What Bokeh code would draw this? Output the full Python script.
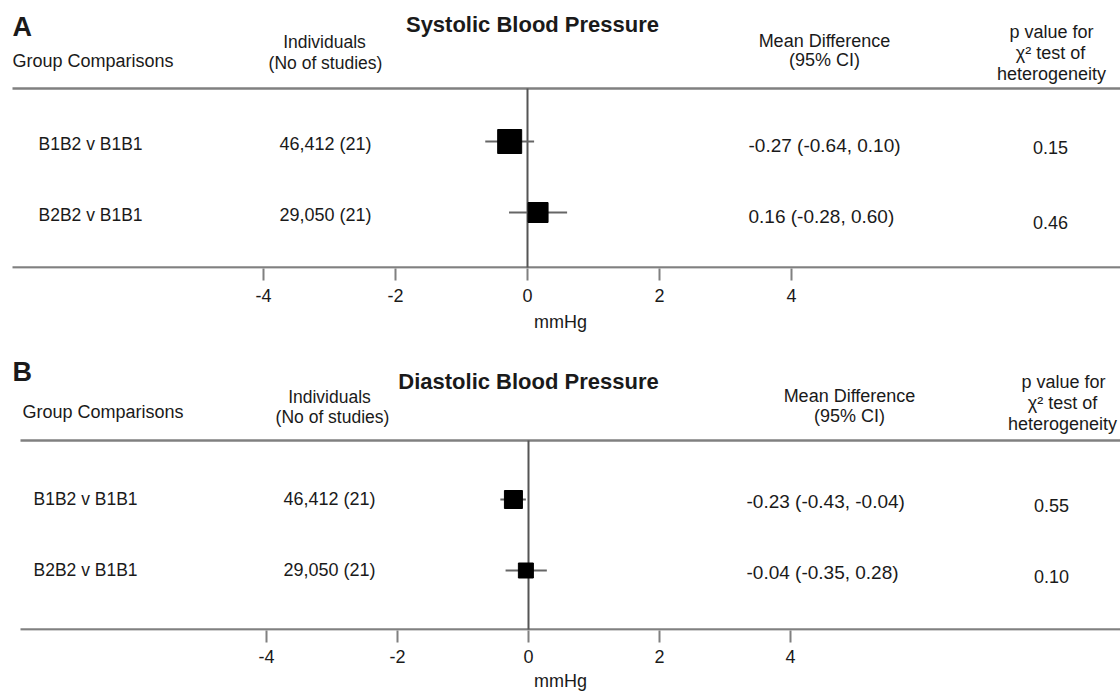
from bokeh.plotting import figure
from bokeh.layouts import column
from bokeh.models import Range1d, FixedTicker
from bokeh.core.properties import value
from bokeh.embed import file_html
from bokeh.resources import INLINE

# ---------------- data ----------------
comparisons = ["B1B2 v B1B1", "B2B2 v B1B1"]
individuals = ["46,412 (21)", "29,050 (21)"]

sbp_mean = [-0.27, 0.16]
sbp_lo = [-0.64, -0.28]
sbp_hi = [0.10, 0.60]
sbp_p = ["0.15", "0.46"]

dbp_mean = [-0.23, -0.04]
dbp_lo = [-0.43, -0.35]
dbp_hi = [-0.04, 0.28]
dbp_p = ["0.55", "0.10"]

x_ticks = [-4, -2, 0, 2, 4]
x_label = "mmHg"

FONT = "Liberation Sans"
TXT = "#1a1a1a"
LINE = "#808080"


def make_panel(letter, title, mean, lo, hi, pvals, g):
    H, fb = g["height"], g["fb"]

    def X(px):
        return (px - g["x0"]) / g["ppu"]

    def Y(py):
        return 2 - (py - g["row1"]) / g["gap"]

    p = figure(width=1120, height=H,
               x_range=Range1d(X(0), X(1120)), y_range=Range1d(Y(fb), Y(0)),
               output_backend="svg", toolbar_location=None, y_axis_location=None,
               min_border_left=0, min_border_right=0, min_border_top=0,
               min_border_bottom=H - fb)
    p.outline_line_color = None
    p.xgrid.visible = False
    p.ygrid.visible = False
    p.background_fill_color = "white"
    p.border_fill_color = "white"

    ax = p.xaxis[0]
    ax.ticker = FixedTicker(ticks=x_ticks)
    ax.major_label_overrides = {t: str(t) for t in x_ticks}
    ax.axis_line_color = None
    ax.major_tick_in = 0
    ax.major_tick_out = 12
    ax.major_tick_line_color = LINE
    ax.major_tick_line_width = 2
    ax.minor_tick_line_color = None
    ax.major_label_text_font = FONT
    ax.major_label_text_font_size = "18px"
    ax.major_label_text_color = TXT
    ax.major_label_standoff = g["lab_standoff"]
    ax.axis_label = x_label
    ax.axis_label_text_font = FONT
    ax.axis_label_text_font_size = "18px"
    ax.axis_label_text_font_style = "normal"
    ax.axis_label_text_color = TXT
    ax.axis_label_standoff = g["axlab_standoff"]

    y_rows = [2, 1]
    y_top = Y(g["topline"])
    y_axis = Y(fb - 1)
    # rules
    p.segment(x0=[X(g["lx"])], x1=[X(1120)], y0=[y_top], y1=[y_top],
              line_color=LINE, line_width=2.5)
    p.segment(x0=[X(g["lx"])], x1=[X(1120)], y0=[y_axis], y1=[y_axis],
              line_color=LINE, line_width=2.5)
    p.segment(x0=[0], x1=[0], y0=[y_axis], y1=[y_top], line_color="#555555", line_width=2)

    # CIs and point estimates
    p.segment(x0=lo, x1=hi, y0=y_rows, y1=y_rows, line_color="#666666", line_width=2)
    p.scatter(x=mean, y=y_rows, marker="square", size=g["sq"], fill_color="black",
              line_color="black")

    def txt(xs, ys, texts, align="left", size="17.5px", style="normal"):
        p.text(x=[X(v) for v in xs], y=[Y(v) for v in ys], text=texts,
               text_font=value(FONT), text_font_size=size, text_font_style=style,
               text_color=TXT, text_align=align, text_baseline="middle")

    hd = g["hdr"]
    txt([hd["letter"][0]], [hd["letter"][1]], [letter], size="27px", style="bold")
    txt([hd["title"][0]], [hd["title"][1]], [title], align="center", size="22px", style="bold")
    txt([hd["group"][0]], [hd["group"][1]], ["Group Comparisons"], size="18px")
    txt([hd["ind1"][0], hd["ind2"][0]], [hd["ind1"][1], hd["ind2"][1]],
        ["Individuals", "(No of studies)"], align="center")
    txt([hd["md1"][0], hd["md2"][0]], [hd["md1"][1], hd["md2"][1]],
        ["Mean Difference", "(95% CI)"], align="center", size="18px")
    txt([hd["p1"][0], hd["p2"][0], hd["p3"][0]], [hd["p1"][1], hd["p2"][1], hd["p3"][1]],
        ["p value for", "\u03c7\u00b2 test of", "heterogeneity"], align="center", size="18px")

    rows_px = [g["row1"], g["row1"] + g["gap"]]
    md_text = [f"{m:.2f} ({a:.2f}, {b:.2f})" for m, a, b in zip(mean, lo, hi)]
    txt([g["c_lab"]] * 2, [r + g["dy_lab"] for r in rows_px], comparisons)
    txt([g["c_n"]] * 2, [r + g["dy_lab"] for r in rows_px], individuals, align="center",
        size="18px")
    txt([g["c_md"]] * 2, [r + g["dy_md"] for r in rows_px], md_text, size="19px")
    txt([g["c_p"]] * 2, [rows_px[0] + g["dy_p"][0], rows_px[1] + g["dy_p"][1]], pvals,
        align="center", size="18px")
    return p


geom_a = dict(height=345, fb=268, x0=527, ppu=66, row1=141, gap=71, lx=12, topline=88,
              sq=[24, 20], lab_standoff=8, axlab_standoff=7,
              hdr=dict(letter=(12, 26), title=(532, 24), group=(12, 60),
                       ind1=(324, 41), ind2=(325, 62), md1=(824, 40), md2=(824, 59),
                       p1=(1051, 31), p2=(1050, 52), p3=(1051, 73)),
              c_lab=38, c_n=325, c_md=748, c_p=1050, dy_lab=2, dy_md=4, dy_p=(6, 10))

geom_b = dict(height=350, fb=285, x0=528, ppu=65.5, row1=154, gap=71, lx=20, topline=95,
              sq=[18, 15], lab_standoff=7, axlab_standoff=5,
              hdr=dict(letter=(12, 26), title=(528, 36), group=(22, 66),
                       ind1=(329, 51), ind2=(332, 71), md1=(849, 50), md2=(849, 70),
                       p1=(1063, 36), p2=(1062, 57), p3=(1062, 78)),
              c_lab=33, c_n=329, c_md=746, c_p=1051, dy_lab=-1, dy_md=2, dy_p=(6, 6))

pa = make_panel("A", "Systolic Blood Pressure", sbp_mean, sbp_lo, sbp_hi, sbp_p, geom_a)
pb = make_panel("B", "Diastolic Blood Pressure", dbp_mean, dbp_lo, dbp_hi, dbp_p, geom_b)

layout = column(pa, pb, spacing=0)
open("out.html", "w").write(file_html(layout, INLINE))
